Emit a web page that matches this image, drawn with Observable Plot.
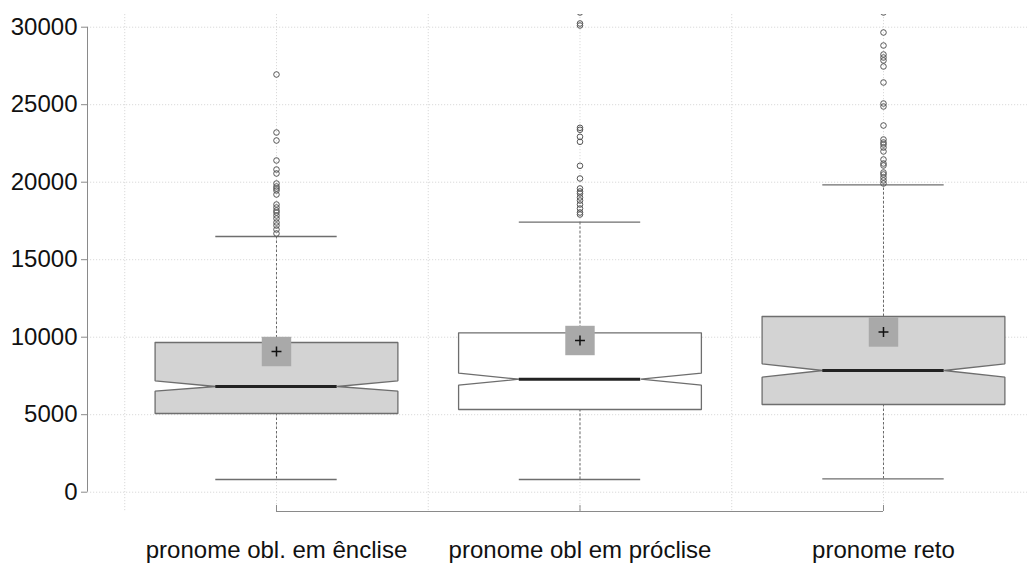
<!DOCTYPE html>
<html><head><meta charset="utf-8">
<script src="https://cdn.jsdelivr.net/npm/d3@7"></script>
<script src="https://cdn.jsdelivr.net/npm/@observablehq/plot@0.6"></script>
<style>html,body{margin:0;padding:0;background:#fff;} svg{display:block}</style>
</head><body><div id="chart"></div>
<script>
// ---- data ----
const categories = ["pronome obl. em ênclise", "pronome obl em próclise", "pronome reto"];
const q1 = [5077, 5335, 5658];
const medians = [6819, 7290, 7852];
const q3 = [9658, 10284, 11335];
const notchLow = [6516, 6903, 7419];
const notchHigh = [7187, 7677, 8284];
const whiskerLow = [819, 819, 865];
const whiskerHigh = [16497, 17419, 19832];
const means = [9077, 9787, 10335];
const outliersEnclise = [26948, 23206, 22690, 21400, 20819, 20561, 19916, 19723, 19594, 19465, 19206,
  18561, 18368, 18174, 18045, 17852, 17658, 17400, 17206, 16948, 16690];
const outliersProclise = [30950, 30239, 30110, 23510, 23381, 22929, 22606, 21058, 20239, 19594, 19400,
  19271, 19013, 18819, 18561, 18303, 18045, 17916];
const outliersReto = [30950, 29658, 28819, 28239, 28045, 27852, 27465, 26432, 25077, 24884, 23658, 22755,
  22561, 22432, 22239, 21981, 21465, 21206, 21077, 20626, 20497, 20303, 20110, 19916];
const yTicks = [0, 5000, 10000, 15000, 20000, 25000, 30000];

// ---- styles / layout ----
const boxFill = ["#d3d3d3", "#ffffff", "#d3d3d3"];
const HALF = 0.4, NOTCH = 0.2;          // box half-width, notch/cap half-width (category units)
const xDomain = [-0.6227, 2.4745];
const yDomain = [-1245, 30819];

const boxes = categories.map((c, i) => ({
  i, c, q1: q1[i], med: medians[i], q3: q3[i], nl: notchLow[i], nh: notchHigh[i],
  wl: whiskerLow[i], wh: whiskerHigh[i], mean: means[i]
}));
const outliers = [outliersEnclise, outliersProclise, outliersReto]
  .flatMap((vals, i) => vals.map(v => ({i, v})));
const polygon = boxes.flatMap(b => [
  [b.i - HALF, b.q3], [b.i + HALF, b.q3], [b.i + HALF, b.nh], [b.i + NOTCH, b.med],
  [b.i + HALF, b.nl], [b.i + HALF, b.q1], [b.i - HALF, b.q1], [b.i - HALF, b.nl],
  [b.i - NOTCH, b.med], [b.i - HALF, b.nh], [b.i - HALF, b.q3]
].map(([x, y]) => ({i: b.i, x, y})));

const gridStyle = {stroke: "#dadada", strokeOpacity: 1, strokeDasharray: "1.2,1.8", strokeWidth: 1};
const axisGray = "#8a8a8a";

const chart = Plot.plot({
  width: 1027, height: 563,
  marginLeft: 87, marginRight: 0, marginTop: 14, marginBottom: 52,
  style: {fontFamily: "'Liberation Sans', Arial, sans-serif", fontSize: "24px", background: "#fff"},
  x: {type: "linear", domain: xDomain, label: null},
  y: {domain: yDomain, label: null},
  marks: [
    Plot.gridY(yTicks, gridStyle),
    Plot.gridX([-0.5, 0, 0.5, 1, 1.5, 2], gridStyle),
    // whiskers
    Plot.ruleX(boxes, {x: "i", y1: "q1", y2: "wl", stroke: "#6a6a6a", strokeDasharray: "2.5,2"}),
    Plot.ruleX(boxes, {x: "i", y1: "q3", y2: "wh", stroke: "#6a6a6a", strokeDasharray: "2.5,2"}),
    Plot.ruleY(boxes, {y: "wl", x1: d => d.i - NOTCH, x2: d => d.i + NOTCH, stroke: "#6e6e6e", strokeWidth: 1.3}),
    Plot.ruleY(boxes, {y: "wh", x1: d => d.i - NOTCH, x2: d => d.i + NOTCH, stroke: "#6e6e6e", strokeWidth: 1.3}),
    // notched boxes
    Plot.line(polygon, {x: "x", y: "y", z: "i", fill: d => boxFill[d.i], stroke: "#6e6e6e",
      strokeWidth: 1.3, strokeLinejoin: "miter", curve: "linear"}),
    // medians
    Plot.ruleY(boxes, {y: "med", x1: d => d.i - NOTCH, x2: d => d.i + NOTCH, stroke: "#222", strokeWidth: 3}),
    // means
    Plot.dot(boxes, {x: "i", y: "mean", symbol: "square", r: 16.6, fill: "#a9a9a9", stroke: "none"}),
    Plot.dot(boxes, {x: "i", y: "mean", symbol: "plus", r: 3.3, stroke: "#111", strokeWidth: 1.5, fill: "none"}),
    // outliers
    Plot.dot(outliers, {x: "i", y: "v", r: 2.8, stroke: "#555", strokeWidth: 1, fill: "none", clip: true}),
    // axes
    Plot.ruleX([xDomain[0]], {y1: 0, y2: 30000, stroke: axisGray}),
    Plot.axisY(yTicks, {tickFormat: d3.format("d"), tickSize: 6, tickPadding: 4, stroke: axisGray, fill: "#111", label: null}),
    Plot.ruleY([yDomain[0]], {x1: 0, x2: 2, stroke: axisGray}),
    Plot.axisX([0, 1, 2], {tickFormat: i => categories[i], tickSize: -6, tickPadding: 35, stroke: axisGray, fill: "#111", label: null})
  ]
});
document.getElementById("chart").append(chart);
</script>
</body></html>
